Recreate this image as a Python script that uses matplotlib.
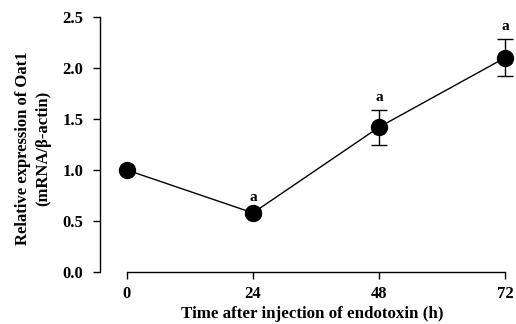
import matplotlib.pyplot as plt

# Data
hours = [0, 24, 48, 72]
expression = [1.0, 0.58, 1.42, 2.10]
errors = [0.0, 0.03, 0.17, 0.18]
letters = ['', 'a', 'a', 'a']

plt.rcParams['font.family'] = ['Liberation Serif', 'DejaVu Serif']
plt.rcParams['font.weight'] = 'bold'

fig = plt.figure(figsize=(5.16, 3.24), dpi=100)
ax = fig.add_axes([0.194, 0.160, 0.785, 0.788])

ax.errorbar(hours, expression, yerr=errors, color='black', lw=1.0,
            marker='o', markersize=11.5, capsize=6, capthick=1.0,
            elinewidth=1.0, clip_on=False, zorder=3)

# significance letters above the error bars
for h, v, e, t in zip(hours, expression, errors, letters):
    if t:
        ax.text(h, v + e + 0.06, t, ha='center', va='bottom', fontsize=11,
                fontweight='bold')

ax.set_xlim(-5.1, 72)
ax.set_ylim(0, 2.5)
ax.set_xticks(hours)
ax.set_yticks([0.0, 0.5, 1.0, 1.5, 2.0, 2.5])
ax.set_yticklabels(['0.0', '0.5', '1.0', '1.5', '2.0', '2.5'])

ax.spines['top'].set_visible(False)
ax.spines['right'].set_visible(False)
ax.spines['bottom'].set_bounds(0, 72)
ax.spines['left'].set_bounds(0, 2.5)
for s in ('left', 'bottom'):
    ax.spines[s].set_linewidth(1.0)

ax.tick_params(axis='both', direction='out', length=5, width=1.0,
               labelsize=12)
ax.tick_params(axis='y', pad=7)
ax.tick_params(axis='x', pad=5)
for lab in ax.get_xticklabels() + ax.get_yticklabels():
    lab.set_fontweight('bold')

fig.text(312.5 / 516, 1 - 314 / 324, 'Time after injection of endotoxin (h)',
         ha='center', va='center', fontsize=12.2, fontweight='bold')
fig.text(33 / 516, 1 - 148 / 324, 'Relative expression of Oat1\n(mRNA/\u03b2-actin)',
         ha='center', va='center', rotation=90, fontsize=12,
         fontweight='bold', linespacing=1.4)

fig.savefig('out.png', dpi=100)
